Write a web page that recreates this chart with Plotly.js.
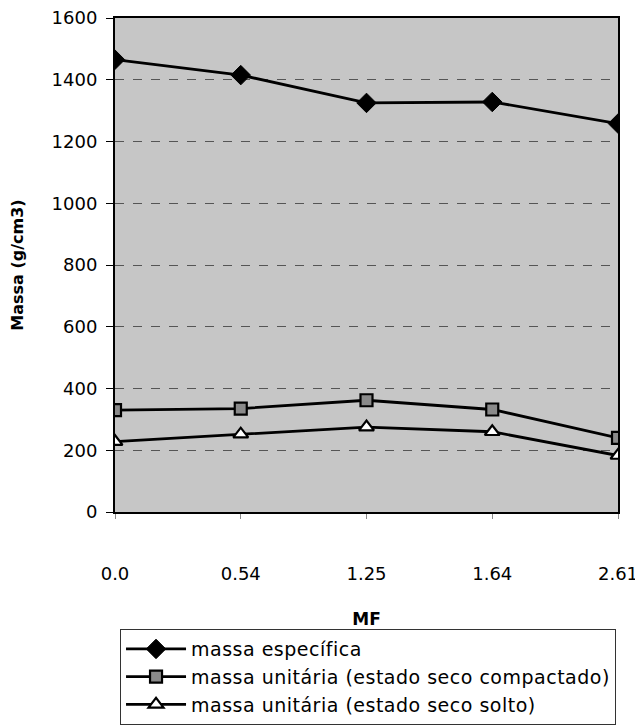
<!DOCTYPE html>
<html>
<head>
<meta charset="utf-8">
<script src="https://cdn.plot.ly/plotly-3.0.1.min.js"></script>
<style>html,body{margin:0;padding:0;background:#fff;}#chart{width:635px;height:728px;}.legendtext{letter-spacing:0.5px;}</style>
</head>
<body>
<div id="chart"></div>
<script>
var categories = ["0.0", "0.54", "1.25", "1.64", "2.61"];
var massaEspecifica = [1465, 1415, 1325, 1328, 1258];
var massaCompactado = [330, 335, 362, 332, 240];
var massaSolto = [228, 252, 275, 260, 183];
var yTicks = [0, 200, 400, 600, 800, 1000, 1200, 1400, 1600];
var seriesNames = ["massa específica", "massa unitária (estado seco compactado)", "massa unitária (estado seco solto)"];

var xIdx = categories.map(function(c, i){ return i; });

var traces = [
  {x: xIdx, y: massaEspecifica, name: seriesNames[0], mode: "lines+markers",
   line: {color: "#000", width: 2.8},
   marker: {symbol: "diamond", size: 15, color: "#000", line: {color: "#000", width: 1}}},
  {x: xIdx, y: massaCompactado, name: seriesNames[1], mode: "lines+markers",
   line: {color: "#000", width: 2.8},
   marker: {symbol: "square", size: 12, color: "#8a8a8a", line: {color: "#000", width: 2.2}}},
  {x: xIdx, y: massaSolto, name: seriesNames[2], mode: "lines+markers",
   line: {color: "#000", width: 2.8},
   marker: {symbol: "triangle-up", size: 13, color: "#fff", line: {color: "#000", width: 2.2}}}
];

var layout = {
  width: 635, height: 728,
  margin: {l: 115, r: 17, t: 18, b: 216, autoexpand: false},
  paper_bgcolor: "#fff",
  plot_bgcolor: "#c6c6c6",
  font: {family: "DejaVu Sans, sans-serif", color: "#000", size: 18},
  showlegend: true,
  legend: {
    x: 0.01, xanchor: "left", y: -0.237, yanchor: "top",
    bordercolor: "#333", borderwidth: 1, bgcolor: "#fff",
    font: {size: 19}, itemwidth: 60
  },
  xaxis: {
    tickmode: "array", tickvals: xIdx, ticktext: categories,
    range: [0, 4], showgrid: false, zeroline: false,
    showline: true, linecolor: "#000", linewidth: 2, mirror: true,
    ticks: "outside", ticklen: 5, tickcolor: "#888",
    ticklabelstandoff: 39, ticklabeloverflow: "allow",
    tickfont: {size: 18},
    title: {text: "<b>MF</b>", font: {size: 17}, standoff: 31}
  },
  yaxis: {
    range: [0, 1600], tickvals: yTicks,
    showgrid: true, gridcolor: "#555", gridwidth: 1, griddash: "dash",
    zeroline: false,
    showline: true, linecolor: "#000", linewidth: 2, mirror: true,
    ticks: "outside", ticklen: 7, tickcolor: "#000",
    ticklabelstandoff: 5,
    tickfont: {size: 18},
    title: {text: "<b>Massa (g/cm3)</b>", font: {size: 16}, standoff: 24}
  }
};

Plotly.newPlot("chart", traces, layout, {displayModeBar: false, staticPlot: true});
</script>
</body>
</html>
